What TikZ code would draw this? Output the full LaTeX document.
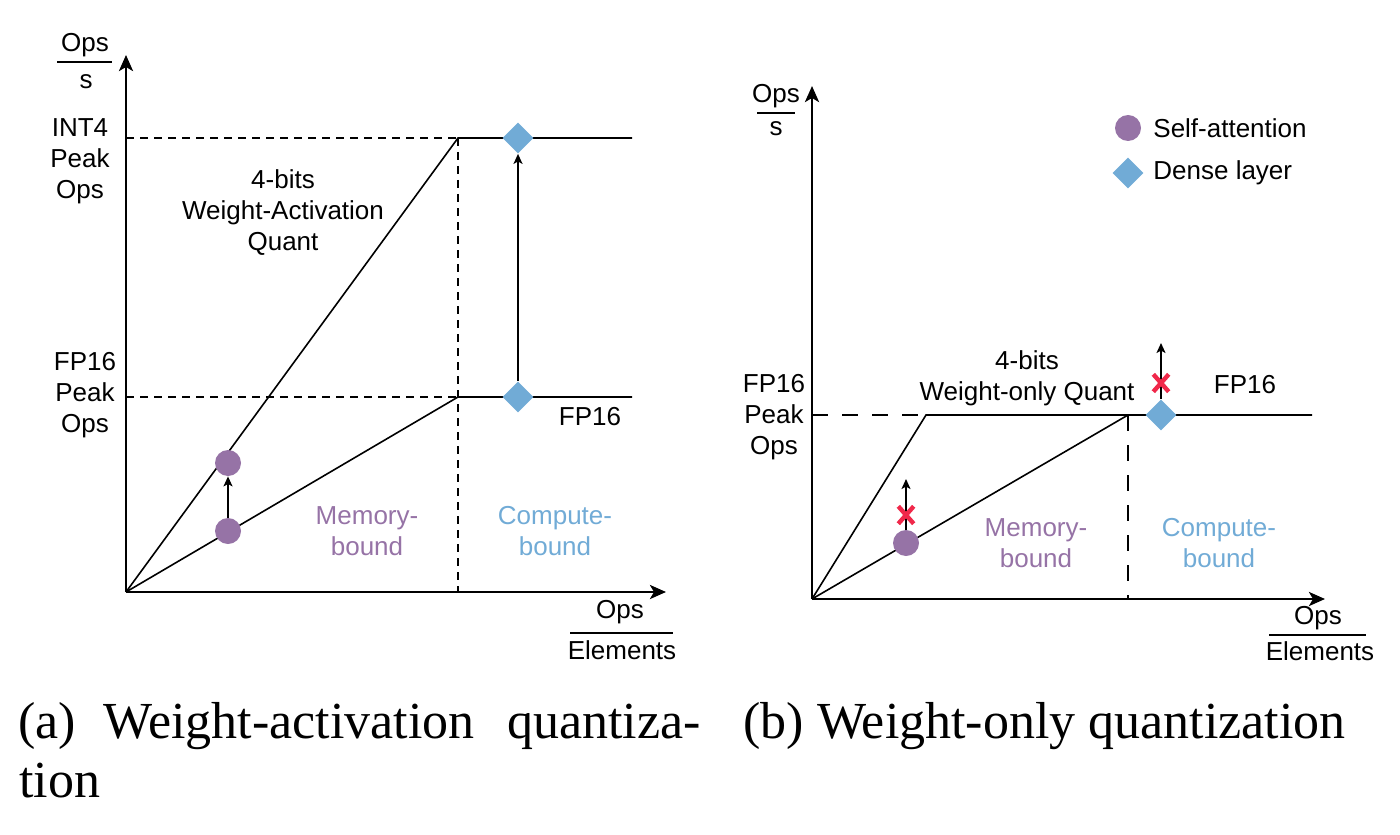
\documentclass[tikz,border=0pt]{standalone}
\usepackage{fontspec}
\setmainfont{Liberation Sans}
\newfontfamily\capfont{Liberation Serif}
\usetikzlibrary{arrows.meta,shapes.geometric,shapes.misc}
\definecolor{attn}{HTML}{9673A6}
\definecolor{dense}{HTML}{71ABD6}
\definecolor{xred}{HTML}{F0284A}
\begin{document}
\begin{tikzpicture}[x=0.5pt,y=-0.5pt,
  lbl/.style={font=\fontsize{13}{15.5}\selectfont, align=center, inner sep=0},
  axis/.style={line width=1.4pt, -{Stealth[length=8pt,width=7pt,inset=2pt]}},
  curve/.style={line width=0.8pt},
  bar/.style={line width=1pt},
  guideA/.style={line width=0.8pt, dash pattern=on 4pt off 3pt},
  guideB/.style={line width=0.8pt, dash pattern=on 8pt off 7pt},
  attnpt/.style={circle, fill=attn, minimum size=13pt, inner sep=0},
  densept/.style={diamond, fill=dense, minimum size=15.5pt, inner sep=0},
  up/.style={line width=0.8pt, -{Stealth[length=5pt,width=4.5pt,inset=1.2pt]}},
  redx/.style={cross out, draw=xred, line width=2.2pt, minimum width=5.5pt, minimum height=6.5pt, inner sep=0},
  captext/.style={font=\capfont\fontsize{26}{30}\selectfont, anchor=base west, inner sep=0}]
\useasboundingbox (0,0) rectangle (1400,834);

% ---------------- Panel (a) ----------------
\coordinate (O1) at (126,592);
\coordinate (yA) at (126,55);
\coordinate (xA) at (666,592);
\coordinate (k1) at (458,138);
\coordinate (k2) at (458,397);
\coordinate (e1) at (632,138);
\coordinate (e2) at (632,397);
\coordinate (d0) at (458,592);
\coordinate (yI) at (126,138);
\coordinate (yF) at (126,397);

\draw[guideA] (yI) -- (k1);
\draw[guideA] (yF) -- (k2);
\draw[guideA] (k1) -- (d0);
\draw[curve] (O1) -- (k1) -- (e1);
\draw[curve] (O1) -- (k2) -- (e2);
\draw[axis] (O1) -- (yA);
\draw[axis] (O1) -- (xA);

\node[densept] (dA1) at (518,138) {};
\node[densept] (dA2) at (518,397) {};
\draw[up] (dA2.north) -- (dA1.south);
\node[attnpt] (cA1) at (228,463) {};
\node[attnpt] (cA2) at (228,531) {};
\draw[up] (cA2.north) -- (cA1.south);

\node[lbl] (opsA) at (85,45) {Ops};
\node[lbl] (sA) at (86,82) {s};
\coordinate (barA1) at (57,62);
\coordinate (barA2) at (112,62);
\draw[bar] (barA1) -- (barA2);

\node[lbl] (int4) at (80,161) {INT4\\Peak\\Ops};
\node[lbl] (fp16a) at (85,395) {FP16\\Peak\\Ops};
\node[lbl] (waq) at (283,213) {4-bits\\Weight-Activation\\Quant};
\node[lbl] (fpA) at (590,417) {FP16};
\node[lbl, text=attn] (memA) at (367,531) {Memory-\\bound};
\node[lbl, text=dense] (compA) at (555,531) {Compute-\\bound};

\node[lbl] (opsxA) at (620,612) {Ops};
\node[lbl] (elA) at (622,650) {Elements};
\coordinate (barA3) at (570,633);
\coordinate (barA4) at (673,633);
\draw[bar] (barA3) -- (barA4);

% ---------------- Panel (b) ----------------
\coordinate (O2) at (812,599);
\coordinate (yB) at (812,86);
\coordinate (xB) at (1325,599);
\coordinate (k3) at (926,415);
\coordinate (k4) at (1128,415);
\coordinate (e3) at (1312,415);
\coordinate (d1) at (1128,599);
\coordinate (yF2) at (812,415);

\draw[guideB] (yF2) -- (k3);
\draw[guideB] (k4) -- (d1);
\draw[curve] (O2) -- (k3) -- (e3);
\draw[curve] (O2) -- (k4);
\draw[axis] (O2) -- (yB);
\draw[axis] (O2) -- (xB);

\node[densept] (dB) at (1161,415) {};
\coordinate (tB) at (1161,343);
\draw[up] (dB.north) -- (tB);
\node[redx] (xmB) at (1161,383) {};

\node[attnpt] (cB) at (906,543) {};
\coordinate (tB2) at (906,479);
\draw[up] (cB.north) -- (tB2);
\node[redx] (xmA) at (906,515) {};

\node[attnpt] (legC) at (1128,128) {};
\node[lbl, anchor=west] (legCt) at (1153,128) {Self-attention};
\node[densept] (legD) at (1128,173) {};
\node[lbl, anchor=west] (legDt) at (1153,173) {Dense layer};

\node[lbl] (opsB) at (776,96) {Ops};
\node[lbl] (sB) at (776,129) {s};
\coordinate (barB1) at (757,113);
\coordinate (barB2) at (795,113);
\draw[bar] (barB1) -- (barB2);

\node[lbl] (fp16b) at (774,417) {FP16\\Peak\\Ops};
\node[lbl] (woq) at (1027,378) {4-bits\\Weight-only Quant};
\node[lbl] (fpB) at (1245,385) {FP16};
\node[lbl, text=attn] (memB) at (1036,543) {Memory-\\bound};
\node[lbl, text=dense] (compB) at (1219,543) {Compute-\\bound};

\node[lbl] (opsxB) at (1318,618) {Ops};
\node[lbl] (elB) at (1320,651) {Elements};
\coordinate (barB3) at (1269,635);
\coordinate (barB4) at (1366,635);
\draw[bar] (barB3) -- (barB4);

% ---------------- Captions ----------------
\node[captext] (ca1) at (18,738) {(a)};
\node[captext] (ca2) at (103,738) {Weight-activation};
\node[captext] (ca3) at (507,738) {quantiza-};
\node[captext] (ca4) at (19,797) {tion};
\node[captext] (cb1) at (743,738) {(b) Weight-only quantization};
\end{tikzpicture}
\end{document}
